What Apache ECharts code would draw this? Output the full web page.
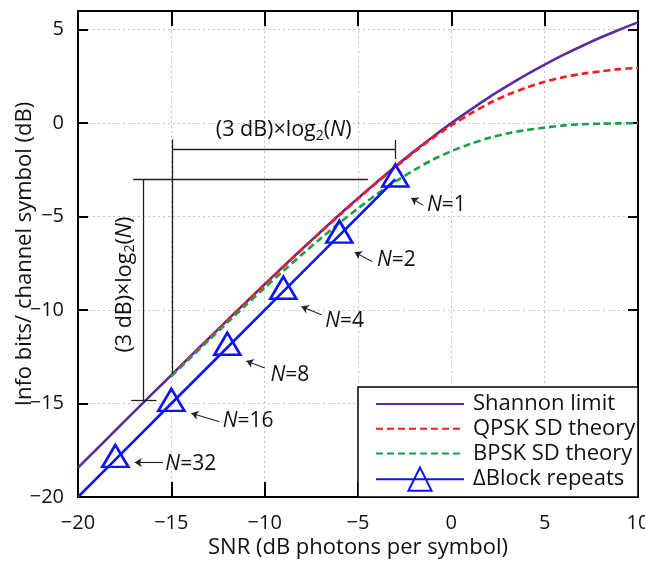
<!DOCTYPE html>
<html><head><meta charset="utf-8">
<script src="https://cdn.jsdelivr.net/npm/echarts@6/dist/echarts.min.js"></script>
<style>html,body{margin:0;padding:0;background:#fff}#c{width:645px;height:562px}</style>
</head><body><div id="c"></div>
<script>
// ---------- data ----------
const shannonSnr = [-20,-19,-18,-17,-16,-15,-14,-13,-12,-11,-10,-9,-8,-7,-6,-5,-4,-3,-2,-1,0,1,2,3,4,5,6,7,8,9,10];
const shannonInfo = [-18.43,-17.44,-16.44,-15.45,-14.46,-13.48,-12.49,-11.52,-10.54,-9.58,-8.62,-7.67,-6.73,-5.81,-4.90,-4.02,-3.16,-2.32,-1.51,-0.74,0.00,0.70,1.37,1.99,2.58,3.13,3.65,4.13,4.58,5.00,5.39];
const theorySnr = [-15,-14,-13,-12,-11,-10,-9,-8,-7,-6,-5,-4,-3,-2,-1,0,1,2,3,4,5,6,7,8,9,10];
const qpskInfo = [-13.49,-12.50,-11.53,-10.55,-9.59,-8.64,-7.69,-6.75,-5.83,-4.93,-4.05,-3.19,-2.36,-1.55,-0.80,-0.12,0.49,1.05,1.51,1.89,2.21,2.46,2.64,2.77,2.89,2.95];
const bpskInfo = [-13.54,-12.58,-11.62,-10.67,-9.73,-8.81,-7.91,-7.03,-6.17,-5.34,-4.56,-3.81,-3.13,-2.52,-1.96,-1.50,-1.12,-0.80,-0.55,-0.37,-0.24,-0.12,-0.06,-0.03,-0.01,0.00];
const repeatN = [1,2,4,8,16,32];
const repeatSnr = [-3,-6,-9,-12,-15,-18];
const repeatInfo = [-3,-6,-9,-12,-15,-18];
const repeatLineStart = [-20,-20];
// annotation anchors (data units): arrow head, arrow tail, label start
const arrowHead = [[-2.15,-4.0],[-5.18,-6.9],[-8.03,-9.81],[-10.98,-12.72],[-13.93,-15.52],[-16.96,-18.16]];
const arrowTail = [[-1.5,-4.4],[-4.25,-7.4],[-6.96,-10.25],[-10.0,-13.1],[-12.42,-15.97],[-15.45,-18.16]];
const labelAt = [[-1.3,-4.4],[-3.98,-7.3],[-6.75,-10.6],[-9.69,-13.5],[-12.25,-15.95],[-15.32,-18.22]];
const bracketLines = [
  [[-14.95,-1.38],[-3.0,-1.38]],
  [[-14.95,-0.86],[-14.95,-13.43]],
  [[-3.0,-0.9],[-3.0,-1.92]],
  [[-17.05,-3.0],[-4.47,-3.0]],
  [[-16.5,-3.0],[-16.5,-14.82]],
  [[-17.15,-14.82],[-15.8,-14.82]]
];
const bracketTextH = [-8.98,-0.38];
const bracketTextV = [-17.5,-8.64];
const xTitle = 'SNR (dB photons per symbol)';
const yTitle = 'Info bits/ channel symbol (dB)';
const names = ['Shannon limit','QPSK SD theory','BPSK SD theory','\u0394Block repeats'];

// ---------- chart ----------
const FONT = "'Open Sans', sans-serif";
const INK = '#111';
const minus = v => String(v).replace('-', '\u2212');
const chart = echarts.init(document.getElementById('c'), null, {renderer: 'canvas'});

const zip = (xs, ys) => xs.map((x, i) => [x, ys[i]]);
const blueData = [{value: repeatLineStart, symbol: 'none'}].concat(
  repeatSnr.slice().reverse().map((x, i) => [x, repeatInfo.slice().reverse()[i]]));

function rich(size) {
  return {
    a: {fontSize: size, fontFamily: FONT, color: INK, lineHeight: size + 4},
    i: {fontSize: size, fontFamily: FONT, color: INK, fontStyle: 'italic', lineHeight: size + 4},
    s: {fontSize: Math.round(size * 0.65), fontFamily: FONT, color: INK, lineHeight: Math.round(size * 0.65), verticalAlign: 'bottom'}
  };
}
const log2Text = '{a|(3 dB)\u00d7log}{s|2}{a|(}{i|N}{a|)}';
const labelBase = {show: true, color: INK, fontFamily: FONT, textBorderWidth: 0, opacity: 1};

const annotData = [];
labelAt.forEach((p, k) => {
  annotData.push({value: p, label: Object.assign({}, labelBase, {position: 'right', distance: 0, fontSize: 21, rich: rich(21),
    formatter: '{i|N}{a|=' + repeatN[k] + '}'})});
});
annotData.push({value: bracketTextH, label: Object.assign({}, labelBase, {position: 'inside', fontSize: 21.5, rich: rich(21.5), formatter: log2Text})});
annotData.push({value: bracketTextV, label: Object.assign({}, labelBase, {position: 'inside', rotate: 90, fontSize: 21.5, rich: rich(21.5), formatter: log2Text})});

const markLines = [];
bracketLines.forEach(seg => markLines.push([{coord: seg[0], symbol: 'none'}, {coord: seg[1], symbol: 'none',
  lineStyle: {color: '#222', width: 1.3, type: 'solid'}}]));
arrowHead.forEach((h, k) => markLines.push([{coord: arrowTail[k], symbol: 'none'}, {coord: h, symbol: 'arrow', symbolSize: 7,
  lineStyle: {color: '#222', width: 1.1, type: 'solid'}}]));

const axisCommon = {type: 'value', min: -20, interval: 5};
const gridLine = {show: true, lineStyle: {color: '#c4c4c4', width: 1, type: [2, 3]}};
const frame = {onZero: false, lineStyle: {color: '#000', width: 2}};
const hidden = 'rgba(0,0,0,0)';

chart.setOption({
  animation: false,
  backgroundColor: '#fff',
  grid: {left: 78, right: 7, top: 11, bottom: 65, containLabel: false, outerBoundsMode: 'none'},
  xAxis: [
    Object.assign({}, axisCommon, {max: 10, position: 'bottom', axisLine: frame,
      axisTick: {inside: true, length: 15, lineStyle: {color: '#000', width: 2}},
      axisLabel: {fontSize: 20, fontFamily: FONT, color: INK, margin: 16, formatter: minus},
      splitLine: gridLine,
      name: xTitle, nameLocation: 'middle', nameGap: 40, nameMoveOverlap: false,
      nameTextStyle: {fontSize: 22, fontFamily: FONT, color: INK}}),
    Object.assign({}, axisCommon, {max: 10, position: 'top', axisLine: frame,
      axisTick: {inside: true, length: 15, lineStyle: {color: '#000', width: 2}},
      axisLabel: {show: false}, splitLine: {show: false}})
  ],
  yAxis: [
    Object.assign({}, axisCommon, {max: 6, position: 'left', axisLine: frame,
      axisTick: {inside: true, length: 10, lineStyle: {color: '#000', width: 2}},
      axisLabel: {fontSize: 20, fontFamily: FONT, color: INK, margin: 14, formatter: minus, showMaxLabel: false},
      splitLine: gridLine,
      name: yTitle, nameLocation: 'middle', nameGap: 42, nameMoveOverlap: false,
      nameTextStyle: {fontSize: 22, fontFamily: FONT, color: INK}}),
    Object.assign({}, axisCommon, {max: 6, position: 'right', axisLine: frame,
      axisTick: {inside: true, length: 10, lineStyle: {color: '#000', width: 2}},
      axisLabel: {show: false}, splitLine: {show: false}})
  ],
  legend: {
    data: names, orient: 'vertical', left: 375, top: 392.5, padding: 0,
    itemWidth: 88, itemHeight: 29, itemGap: 1.5,
    textStyle: {fontSize: 22, fontFamily: FONT, color: INK, padding: [0, 0, 0, 4]},
    selectedMode: false, z: 10
  },
  graphic: [{type: 'rect', z: 5, shape: {x: 358, y: 387, width: 280, height: 110},
    style: {fill: '#fff', stroke: '#000', lineWidth: 1.5}}],
  series: [
    {name: names[0], type: 'line', data: zip(shannonSnr, shannonInfo), symbol: 'circle', showSymbol: false, smooth: 0.3,
      lineStyle: {color: '#5e2b9c', width: 2.6}, itemStyle: {color: hidden}, z: 2},
    {name: names[1], type: 'line', data: zip(theorySnr, qpskInfo), symbol: 'circle', showSymbol: false, smooth: 0.3,
      lineStyle: {color: '#ff1a1a', width: 2.6, type: [7, 4]}, itemStyle: {color: hidden}, z: 3},
    {name: names[2], type: 'line', data: zip(theorySnr, bpskInfo), symbol: 'circle', showSymbol: false, smooth: 0.3,
      lineStyle: {color: '#16a04a', width: 2.6, type: [7, 4]}, itemStyle: {color: hidden}, z: 3},
    {name: names[3], type: 'line', data: blueData, symbol: 'triangle', symbolSize: [26, 22], symbolOffset: [0, -3.7],
      showAllSymbol: true,
      lineStyle: {color: '#0a14f5', width: 2.6},
      itemStyle: {color: hidden, borderColor: '#0a14f5', borderWidth: 2.6}, z: 4},
    {name: 'annotations', type: 'scatter', data: annotData, symbolSize: 0, silent: true,
      itemStyle: {color: '#000'}, z: 4,
      markLine: {silent: true, animation: false, symbol: 'none', label: {show: false},
        lineStyle: {color: '#222', width: 1.3, type: 'solid'}, data: markLines}}
  ]
});
</script></body></html>
